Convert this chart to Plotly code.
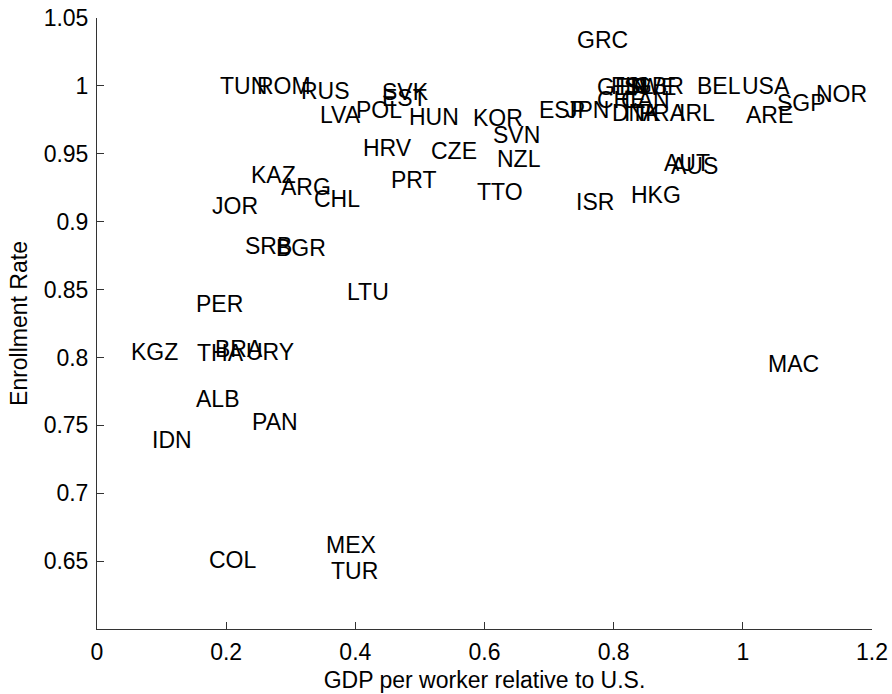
import plotly.graph_objects as go

countries = ["GRC", "TUN", "ROM", "RUS", "SVK", "EST", "LVA", "POL", "HUN", "KOR",
             "SVN", "HRV", "CZE", "NZL", "KAZ", "ARG", "CHL", "PRT", "TTO", "JOR",
             "SRB", "BGR", "LTU", "PER", "KGZ", "THA", "BRA", "URY", "ALB", "PAN",
             "IDN", "COL", "MEX", "TUR", "MAC", "ISR", "HKG", "AUT", "AUS", "ESP",
             "JPN", "GER", "FIN", "ISL", "SWE", "GBR", "BEL", "USA", "CHE", "CAN",
             "DNK", "ITA", "FRA", "IRL", "ARE", "SGP", "NOR"]
gdp_rel = [0.744, 0.192, 0.250, 0.318, 0.443, 0.443, 0.347, 0.403, 0.484, 0.584,
           0.614, 0.413, 0.519, 0.621, 0.240, 0.287, 0.338, 0.457, 0.590, 0.180,
           0.231, 0.279, 0.389, 0.155, 0.054, 0.157, 0.185, 0.233, 0.155, 0.242,
           0.087, 0.175, 0.356, 0.364, 1.041, 0.7435, 0.829, 0.880, 0.890, 0.686,
           0.728, 0.775, 0.798, 0.810, 0.818, 0.833, 0.931, 1.000, 0.775, 0.813,
           0.799, 0.818, 0.841, 0.903, 1.007, 1.055, 1.115]
enroll = [1.034, 1.000, 1.000, 0.9966, 0.9955, 0.991, 0.9786, 0.9822, 0.9774, 0.9763,
          0.9638, 0.9539, 0.9517, 0.9465, 0.9343, 0.9255, 0.9167, 0.9307, 0.9222, 0.9115,
          0.8824, 0.8806, 0.8485, 0.839, 0.8043, 0.8036, 0.8065, 0.8043, 0.7693, 0.7528,
          0.7395, 0.6507, 0.6621, 0.6426, 0.795, 0.9144, 0.920, 0.9432, 0.941, 0.9822,
          0.982, 0.9995, 1.000, 1.000, 0.9995, 1.000, 1.000, 1.000, 0.9896, 0.9896,
          0.9797, 0.9797, 0.9797, 0.9797, 0.9785, 0.9874, 0.994]

x_ticks = [0, 0.2, 0.4, 0.6, 0.8, 1, 1.2]
x_tick_text = ["0", "0.2", "0.4", "0.6", "0.8", "1", "1.2"]
y_ticks = [0.65, 0.7, 0.75, 0.8, 0.85, 0.9, 0.95, 1, 1.05]
y_tick_text = ["0.65", "0.7", "0.75", "0.8", "0.85", "0.9", "0.95", "1", "1.05"]

FONT = "Liberation Sans, Arial, Helvetica, sans-serif"
AXIS_COLOR = "#333333"
FS = 23

fig = go.Figure()
fig.add_trace(go.Scatter(x=gdp_rel, y=enroll, mode="markers",
                         marker=dict(size=1, opacity=0), hoverinfo="skip",
                         showlegend=False))

annotations = []
for name, xv, yv in zip(countries, gdp_rel, enroll):
    annotations.append(dict(x=xv, y=yv, xref="x", yref="y", text=name,
                            showarrow=False, xanchor="left", yanchor="middle",
                            borderpad=0, borderwidth=0, xshift=-1,
                            font=dict(family=FONT, size=FS, color="black")))

fig.update_layout(
    width=892, height=694,
    margin=dict(l=97, r=20, t=18, b=65, autoexpand=False),
    paper_bgcolor="white", plot_bgcolor="white",
    annotations=annotations,
    font=dict(family=FONT, size=FS, color="black"),
)
fig.update_xaxes(range=[0, 1.2], tickvals=x_ticks, ticktext=x_tick_text,
                 showline=True, linecolor=AXIS_COLOR, linewidth=1,
                 ticks="inside", ticklen=7, tickcolor=AXIS_COLOR,
                 showgrid=False, zeroline=False, mirror=False, automargin=False,
                 ticklabelstandoff=2, ticklabeloverflow="allow",
                 tickfont=dict(family=FONT, size=FS, color="black"),
                 title=dict(text="GDP per worker relative to U.S.", standoff=8,
                            font=dict(family=FONT, size=FS, color="black")))
fig.update_yaxes(range=[0.6, 1.05], tickvals=y_ticks, ticktext=y_tick_text,
                 showline=True, linecolor=AXIS_COLOR, linewidth=1,
                 ticks="inside", ticklen=7, tickcolor=AXIS_COLOR,
                 showgrid=False, zeroline=False, mirror=False, automargin=False,
                 ticklabelstandoff=3, ticklabeloverflow="allow",
                 tickfont=dict(family=FONT, size=FS, color="black"),
                 title=dict(text="Enrollment Rate", standoff=9,
                            font=dict(family=FONT, size=FS, color="black")))

fig.write_html("out.html",
               config={"displayModeBar": False},
               post_script="document.body.style.margin='0';"
                           "document.body.style.overflow='hidden';")
